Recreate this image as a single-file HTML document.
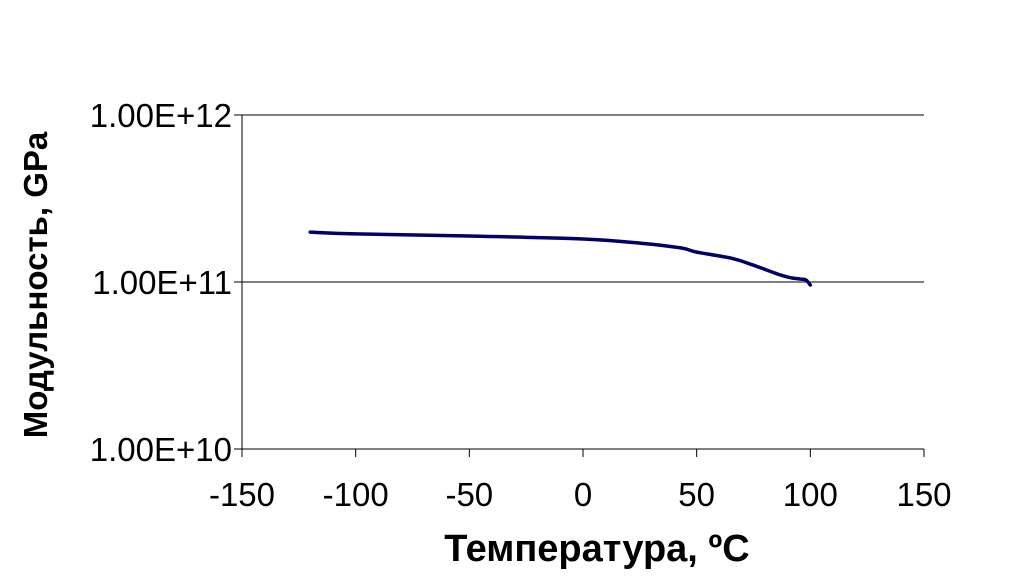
<!DOCTYPE html>
<html><head><meta charset="utf-8"><style>
body{margin:0;background:#fff;width:1013px;height:582px;overflow:hidden}
text{font-family:"Liberation Sans",Arial,sans-serif}
</style></head><body>
<svg id="chart" width="1013" height="582" xmlns="http://www.w3.org/2000/svg">
<g id="grid"></g><g id="axes"></g><g id="series"></g>
<text x="597" y="561" text-anchor="middle" font-size="38" font-weight="bold">Температура, ºC</text>
<text transform="translate(47,285) rotate(-90)" text-anchor="middle" font-size="33" font-weight="bold">Модульность, GPa</text>
</svg>
<script>
const xTicks=[-150,-100,-50,0,50,100,150];
const yTicks=[1e10,1e11,1e12];
const yTickLabels=["1.00E+10","1.00E+11","1.00E+12"];
const temps=[-120,-100,-50,0,25,43,50,65,75,87,92,96,98,100];
const modulus=[1.99e11,1.94e11,1.886e11,1.81e11,1.71e11,1.60e11,1.51e11,1.39e11,1.26e11,1.10e11,1.057e11,1.04e11,1.03e11,0.96e11];
const L=242,R=924,T=115,B=449;
const sx=v=>L+(v+150)/300*(R-L);
const sy=v=>B-(Math.log10(v)-10)/2*(B-T);
const ns="http://www.w3.org/2000/svg";
function mk(t,a,p){const e=document.createElementNS(ns,t);for(const k in a)e.setAttribute(k,a[k]);p.appendChild(e);return e;}
const grid=document.getElementById('grid'),axes=document.getElementById('axes'),series=document.getElementById('series');
yTicks.forEach((v,i)=>{
 const y=sy(v);
 const g=mk('line',{x1:L-8,x2:R,y1:y,y2:y,stroke:'#000','stroke-width':1},grid);
 
 
 const t=mk('text',{x:L-10,y:y+12,'text-anchor':'end','font-size':33},axes);
 t.textContent=yTickLabels[i];
 
 
});
const ya=mk('line',{x1:L,x2:L,y1:T,y2:B,stroke:'#000','stroke-width':1},axes);


xTicks.forEach(v=>{
 const x=sx(v);
 const tk=mk('line',{x1:x,x2:x,y1:B,y2:B+8,stroke:'#000','stroke-width':1},axes);
 
 
 const t=mk('text',{x:x,y:B+57,'text-anchor':'middle','font-size':33},axes);
 t.textContent=v;
 
 
});
const pts=temps.map((t,i)=>[sx(t),sy(modulus[i])]);
let d='M'+pts[0][0].toFixed(1)+','+pts[0][1].toFixed(1);
for(let i=0;i<pts.length-1;i++){
 const p0=pts[Math.max(0,i-1)],p1=pts[i],p2=pts[i+1],p3=pts[Math.min(pts.length-1,i+2)];
 const c1=[p1[0]+(p2[0]-p0[0])/6,p1[1]+(p2[1]-p0[1])/6];
 const c2=[p2[0]-(p3[0]-p1[0])/6,p2[1]-(p3[1]-p1[1])/6];
 d+='C'+c1[0].toFixed(1)+','+c1[1].toFixed(1)+' '+c2[0].toFixed(1)+','+c2[1].toFixed(1)+' '+p2[0].toFixed(1)+','+p2[1].toFixed(1);
}
const p=mk('path',{d:d,fill:'none',stroke:'#000066','stroke-width':3.5,'stroke-linejoin':'round','stroke-linecap':'round'},series);


</script>
</body></html>
